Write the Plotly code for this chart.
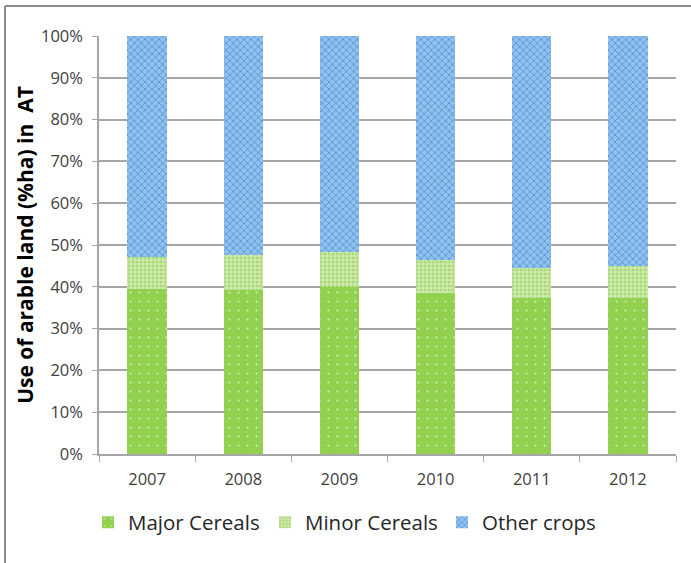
import plotly.graph_objects as go

years = ["2007", "2008", "2009", "2010", "2011", "2012"]
major_cereals = [39.4, 39.3, 40.0, 38.5, 37.4, 37.4]
minor_cereals = [7.7, 8.3, 8.4, 7.9, 7.2, 7.5]
other_crops = [round(100 - a - b, 1) for a, b in zip(major_cereals, minor_cereals)]

series = [
    ("Major Cereals", major_cereals,
     dict(shape=".", bgcolor="#92d050", fgcolor="#d8efc2", size=9, solidity=0.04)),
    ("Minor Cereals", minor_cereals,
     dict(shape=".", bgcolor="#cfeaae", fgcolor="#a9d977", size=4, solidity=0.45)),
    ("Other crops", other_crops,
     dict(shape="x", bgcolor="#92c2ec", fgcolor="#4a8fd8", size=5, solidity=0.28)),
]

fig = go.Figure()
for name, vals, pat in series:
    fig.add_trace(go.Bar(
        x=years, y=vals, name=name,
        marker=dict(color=pat["bgcolor"], line=dict(width=0),
                    pattern=dict(fillmode="replace", **pat)),
    ))

W, H = 691, 563
L, R, T, B = 99, 15, 36, 108.5
pw, ph = W - L - R, H - T - B

def px(x):
    return (x - L) / pw

def py(y):
    return (H - B - y) / ph

frame = dict(color="#8c8c8c", width=2)
fig.add_shape(type="line", xref="paper", yref="paper",
              x0=px(5), x1=px(700), y0=py(6), y1=py(6), line=frame)
fig.add_shape(type="line", xref="paper", yref="paper",
              x0=px(5), x1=px(5), y0=py(6), y1=py(570), line=frame)

fig.update_layout(
    width=W, height=H,
    margin=dict(l=L, r=R, t=T, b=B),
    paper_bgcolor="white", plot_bgcolor="white",
    barmode="stack", bargap=0.59,
    font=dict(family="Open Sans", color="#404040"),
    showlegend=True,
    legend=dict(orientation="h", x=px(88), xanchor="left",
                y=py(523), yanchor="middle",
                font=dict(size=20.5, color="#262626"),
                entrywidth=132, entrywidthmode="pixels",
                traceorder="normal"),
    xaxis=dict(showline=True, linecolor="#a6a6a6", linewidth=1.5,
               ticks="outside", ticklen=6, tickcolor="#a6a6a6",
               tickson="boundaries", ticklabelstandoff=9,
               tickfont=dict(size=16.5, color="#404040"), showgrid=False),
    yaxis=dict(range=[0, 100], dtick=10, ticksuffix="%",
               showline=True, linecolor="#a6a6a6", linewidth=1.5,
               ticks="outside", ticklen=5, tickcolor="#a6a6a6",
               gridcolor="#a6a6a6", gridwidth=1.5,
               ticklabelstandoff=6,
               tickfont=dict(size=16.5, color="#404040"),
               title=dict(text="<b>Use of arable land (%ha) in  AT</b>",
                          font=dict(size=21, color="black"), standoff=2)),
)

fig.write_html("out.html")
